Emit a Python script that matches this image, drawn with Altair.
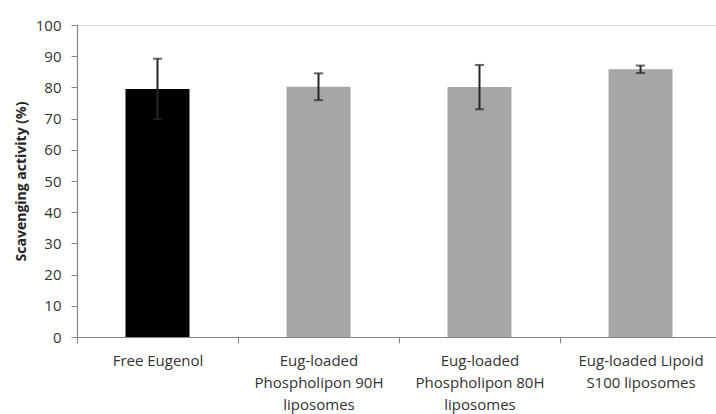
import altair as alt
import pandas as pd

categories = [
    "Free Eugenol",
    "Eug-loaded|Phospholipon 90H|liposomes",
    "Eug-loaded|Phospholipon 80H|liposomes",
    "Eug-loaded Lipoid|S100 liposomes",
]
values = [79.5, 80.2, 80.1, 85.8]
errors = [9.7, 4.3, 7.1, 1.2]
colors = ["#000000", "#a6a6a6", "#a6a6a6", "#a6a6a6"]
y_ticks = [0, 10, 20, 30, 40, 50, 60, 70, 80, 90, 100]

df = pd.DataFrame({
    "cat": categories,
    "value": values,
    "err": errors,
    "color": colors,
})
df["low"] = df["value"] - df["err"]
df["high"] = df["value"] + df["err"]

FONT = "Open Sans"
TITLE = "Scavenging activity (%)"

x_axis = alt.Axis(
    labelExpr="split(datum.label, '|')",
    labelAngle=0,
    labelFont=FONT,
    labelFontSize=15,
    labelColor="#333333",
    labelLineHeight=22,
    labelPadding=10,
    tickBand="extent",
    tickSize=6,
    tickColor="#868686",
    domainColor="#868686",
    domainWidth=1.2,
    labelBaseline="top",
)
x_scale = alt.Scale(range=[0, 644], paddingInner=0, paddingOuter=0)

y_axis = alt.Axis(
    values=y_ticks,
    labelOverlap=False,
    grid=False,
    labelFont=FONT,
    labelFontSize=15,
    labelColor="#333333",
    labelPadding=10,
    tickSize=6,
    tickColor="#868686",
    domainColor="#868686",
    domainWidth=1.2,
    titleFont=FONT,
    titleFontSize=14,
    titleFontWeight="bold",
    titleColor="#262626",
    titlePadding=7,
)
y_scale = alt.Scale(domain=[0, 100], nice=False)


def X():
    return alt.X("cat:N", sort=categories, title=None, scale=x_scale, axis=x_axis)


def Y(field):
    return alt.Y(field, scale=y_scale, title=TITLE, axis=y_axis)


ERR_COLOR = "#262626"

bars = alt.Chart(df).mark_bar(size=64).encode(
    x=X(),
    y=Y("value:Q"),
    color=alt.Color("color:N", scale=None),
)

rules = alt.Chart(df).mark_rule(color=ERR_COLOR, strokeWidth=2).encode(
    x=X(),
    y=Y("low:Q"),
    y2="high:Q",
)

cap_hi = alt.Chart(df).mark_tick(color=ERR_COLOR, thickness=2, size=9).encode(
    x=X(),
    y=Y("high:Q"),
)
cap_lo = alt.Chart(df).mark_tick(color=ERR_COLOR, thickness=2, size=9).encode(
    x=X(),
    y=Y("low:Q"),
)

chart = (bars + rules + cap_hi + cap_lo).properties(
    width=639,
    height=312,
    autosize=alt.AutoSizeParams(type="none"),
    padding={"left": 77, "top": 25, "right": 0, "bottom": 77},
).configure_view(stroke=None).configure(background="white")

chart.save("out.html", embed_options={"renderer": "svg", "actions": False})
